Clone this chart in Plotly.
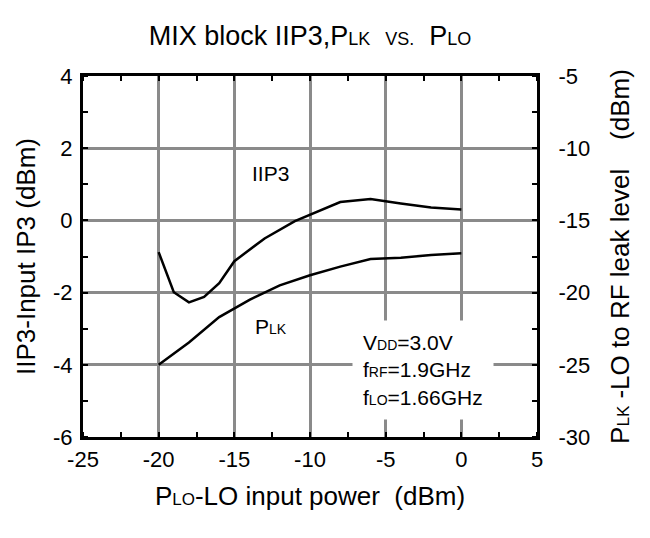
import plotly.graph_objects as go

# Data
plo_iip3 = [-20, -19, -18, -17, -16, -15, -13, -11, -8, -6, -4, -2, 0]
iip3_dbm = [-0.88, -1.99, -2.27, -2.12, -1.74, -1.13, -0.5, -0.02, 0.51, 0.59, 0.47, 0.36, 0.3]
plo_plk = [-20, -18, -16, -15, -14, -12, -10, -8, -6, -4, -2, 0]
plk_dbm = [-25, -23.45, -21.7, -21.1, -20.5, -19.5, -18.8, -18.2, -17.68, -17.58, -17.4, -17.28]

x_ticks = [-25, -20, -15, -10, -5, 0, 5]
x_labels = ["-25", "-20", "-15", "-10", "-5", "0", "5"]
y_ticks = [-6, -4, -2, 0, 2, 4]
y_labels = ["-6", "-4", "-2", "0", "2", "4"]
y2_ticks = [-30, -25, -20, -15, -10, -5]
y2_labels = ["-30", "-25", "-20", "-15", "-10", "-5"]

FONT = "Liberation Sans, Arial, sans-serif"
GRID = "#8a8a8a"


def sm(t, size=15):
    return '<span style="font-size:%dpx">%s</span>' % (size, t)


fig = go.Figure()
fig.add_trace(go.Scatter(x=plo_iip3, y=iip3_dbm, mode="lines",
                         line=dict(color="black", width=2.5), yaxis="y", showlegend=False))
fig.add_trace(go.Scatter(x=plo_plk, y=plk_dbm, mode="lines",
                         line=dict(color="black", width=2.5), yaxis="y2", showlegend=False))

fig.add_annotation(x=-12.6, y=1.3, text="IIP3", showarrow=False,
                   font=dict(size=21, color="black", family=FONT))
fig.add_annotation(x=-12.6, y=-2.95, text="P" + sm("LK", 14), showarrow=False,
                   font=dict(size=21, color="black", family=FONT))
fig.add_annotation(x=-2.55, y=-4.15,
                   text="V" + sm("DD", 14) + "=3.0V<br>f" + sm("RF", 14) + "=1.9GHz<br>f"
                        + sm("LO", 14) + "=1.66GHz",
                   showarrow=False, align="left", bgcolor="white", borderpad=10,
                   font=dict(size=21, color="black", family=FONT))

fig.update_layout(
    width=650, height=538,
    margin=dict(l=75, r=121, t=68, b=109),
    paper_bgcolor="white", plot_bgcolor="white",
    font=dict(family=FONT, size=22, color="black"),
    title=dict(text="MIX block IIP3,P" + sm("LK", 18) + "  " + sm("VS.", 18) + "  P" + sm("LO", 18),
               x=0.5, xref="paper", y=1 - 28 / 538, yref="container", yanchor="middle",
               font=dict(size=27, family=FONT, color="black")),
    xaxis=dict(range=[-25, 5], tickvals=x_ticks, ticktext=x_labels, showgrid=True, gridcolor=GRID,
               gridwidth=2.5, zeroline=False, showline=True, linecolor="black", linewidth=3,
               mirror="allticks", ticks="", ticklabelstandoff=1,
               minor=dict(dtick=2.5, ticks="inside", ticklen=5, tickwidth=2, tickcolor="black", showgrid=False),
               title=dict(text="P" + sm("LO", 17) + "-LO input power  (dBm)", standoff=16,
                          font=dict(size=26))),
    yaxis=dict(range=[-6, 4], tickvals=y_ticks, ticktext=y_labels, showgrid=True, gridcolor=GRID,
               gridwidth=2.5, zeroline=False, showline=True, linecolor="black", linewidth=3,
               ticks="", ticklabelstandoff=3,
               minor=dict(dtick=1, ticks="inside", ticklen=5, tickwidth=2, tickcolor="black", showgrid=False),
               title=dict(text="IIP3-Input IP3 (dBm)", standoff=10, font=dict(size=26))),
    yaxis2=dict(range=[-30, -5], tickvals=y2_ticks, ticktext=y2_labels, overlaying="y", side="right",
                showgrid=False, zeroline=False, showline=True, linecolor="black", linewidth=3,
                ticks="", ticklabelstandoff=14,
                minor=dict(dtick=2.5, ticks="inside", ticklen=5, tickwidth=2, tickcolor="black", showgrid=False),
                title=dict(text="P" + sm("LK", 17) + " -LO to RF leak level    (dBm)", standoff=22,
                           font=dict(size=26))),
)

fig.write_html("out.html")
